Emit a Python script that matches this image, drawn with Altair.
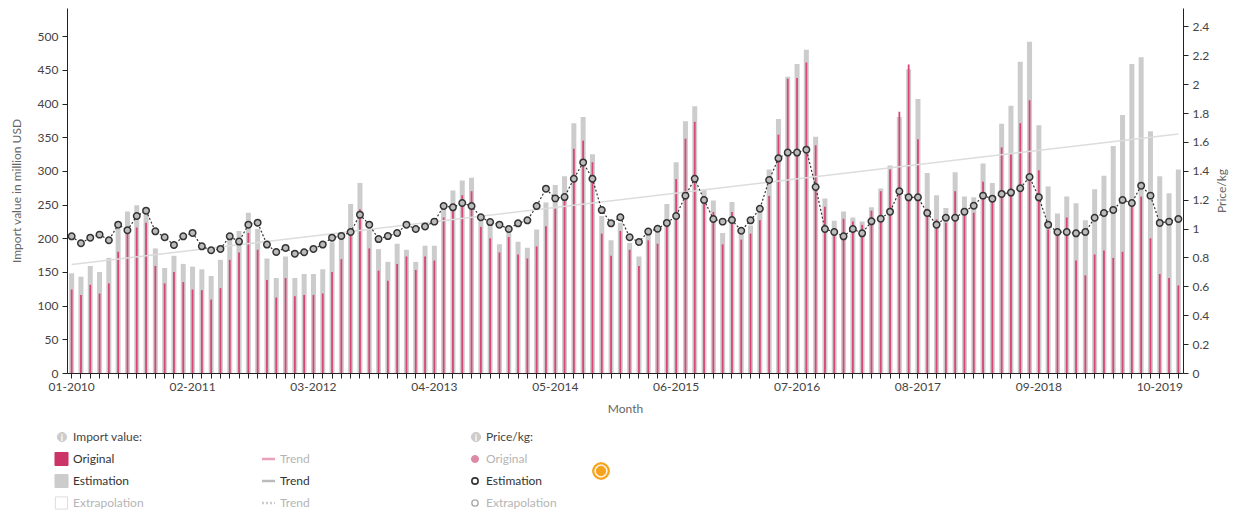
import json
import altair as alt
import pandas as pd

# ---------------- data ----------------
months = [f"{m:02d}-{y}" for y in range(2010, 2020) for m in range(1, 13)]
shown_labels = ["01-2010", "02-2011", "03-2012", "04-2013", "05-2014",
                "06-2015", "07-2016", "08-2017", "09-2018", "10-2019"]

estimation = [
    148, 143, 159, 150, 171, 214, 240, 249, 236, 185,
    156, 174, 162, 158, 154, 144, 168, 199, 211, 238,
    214, 170, 141, 173, 141, 147, 147, 154, 194, 202,
    251, 282, 213, 184, 165, 192, 183, 165, 189, 189,
    250, 271, 286, 290, 233, 222, 191, 210, 195, 186,
    213, 253, 279, 292, 371, 380, 325, 233, 197, 223,
    193, 173, 208, 214, 251, 313, 374, 396, 272, 256,
    208, 254, 206, 219, 240, 302, 377, 440, 459, 480,
    351, 259, 226, 240, 231, 225, 246, 274, 308, 380,
    451, 407, 297, 264, 245, 298, 262, 261, 311, 282,
    370, 397, 462, 492, 368, 277, 237, 262, 252, 227,
    273, 293, 337, 383, 459, 469, 359, 292, 267, 302,
]

original = [
    124, 116, 131, 118, 133, 180, 209, 216, 223, 159,
    133, 150, 135, 124, 123, 109, 126, 168, 179, 208,
    183, 138, 112, 141, 114, 116, 116, 118, 150, 169,
    209, 243, 185, 152, 137, 162, 173, 153, 173, 167,
    231, 248, 264, 270, 217, 200, 179, 202, 176, 170,
    188, 218, 244, 256, 333, 345, 313, 207, 174, 211,
    183, 159, 197, 192, 226, 288, 348, 373, 257, 239,
    191, 239, 198, 207, 227, 263, 354, 437, 438, 461,
    338, 247, 215, 229, 225, 220, 241, 270, 302, 388,
    458, 347, 244, 228, 223, 270, 243, 238, 284, 262,
    335, 325, 371, 405, 301, 213, 208, 231, 167, 145,
    176, 182, 171, 180, 248, 262, 200, 147, 141, 130,
]

price = [
    0.946, 0.898, 0.937, 0.958, 0.919, 1.027, 0.988, 1.087, 1.124, 0.981,
    0.940, 0.886, 0.946, 0.970, 0.877, 0.850, 0.859, 0.946, 0.910, 1.027,
    1.041, 0.889, 0.838, 0.866, 0.826, 0.836, 0.859, 0.889, 0.937, 0.949,
    0.976, 1.096, 1.027, 0.927, 0.948, 0.969, 1.027, 0.997, 1.015, 1.048,
    1.156, 1.147, 1.177, 1.156, 1.078, 1.045, 1.027, 0.997, 1.036, 1.057,
    1.156, 1.276, 1.209, 1.218, 1.345, 1.458, 1.345, 1.128, 1.036, 1.078,
    0.940, 0.907, 0.979, 0.999, 1.039, 1.087, 1.228, 1.345, 1.198, 1.066,
    1.048, 1.059, 0.985, 1.057, 1.137, 1.336, 1.486, 1.526, 1.526, 1.546,
    1.288, 0.997, 0.976, 0.946, 0.997, 0.967, 1.050, 1.068, 1.117, 1.258,
    1.216, 1.216, 1.108, 1.027, 1.075, 1.075, 1.117, 1.158, 1.228, 1.207,
    1.240, 1.249, 1.279, 1.357, 1.216, 1.027, 0.976, 0.976, 0.967, 0.976,
    1.075, 1.108, 1.129, 1.198, 1.177, 1.297, 1.228, 1.039, 1.048, 1.066,
]

trend_months = ["01-2010", "12-2019"]
trend_values = [161, 355]

left_ticks = [0, 50, 100, 150, 200, 250, 300, 350, 400, 450, 500]
right_ticks = [0, 0.2, 0.4, 0.6, 0.8, 1, 1.2, 1.4, 1.6, 1.8, 2, 2.2, 2.4]

df = pd.DataFrame({"month": months, "estimation": estimation,
                   "original": original, "price": price})
trend_df = pd.DataFrame({"month": trend_months, "trend": trend_values})

# ---------------- styling ----------------
FONT = "Lato"
PLOT_X0, PLOT_Y0 = 67, 8  # page position of the plot origin

xscale = alt.Scale(domain=months, paddingInner=0, paddingOuter=0)
label_expr = ("indexof(" + json.dumps(shown_labels) +
              ", datum.value) >= 0 ? datum.value : ''")
x_axis = alt.Axis(title="Month", labelExpr=label_expr, labelAngle=0,
                  labelOverlap=False, labelFont=FONT, labelFontSize=12,
                  labelColor="#444", titleFont=FONT, titleFontSize=12,
                  titleFontWeight="normal", titleColor="#666",
                  domainColor="#222", tickColor="#222", tickSize=5,
                  labelPadding=3, titlePadding=11, grid=False)
x_enc = alt.X("month:O", scale=xscale, axis=x_axis, sort=None)

yl_scale = alt.Scale(domain=[0, 542], nice=False, zero=True)
yr_scale = alt.Scale(domain=[0, 2.527], nice=False, zero=True)

LEFT_TITLE = "Import value in million USD"
RIGHT_TITLE = "Price/kg"
left_axis = alt.Axis(title=LEFT_TITLE, orient="left", values=left_ticks,
                     labelFont=FONT, labelFontSize=12, labelColor="#444",
                     titleFont=FONT, titleFontSize=12, titleFontWeight="normal",
                     titleColor="#666", domainColor="#222", tickColor="#222",
                     tickSize=5, labelPadding=4, titlePadding=14, grid=False)
right_axis = alt.Axis(title=RIGHT_TITLE, orient="right", values=right_ticks,
                      format="~g", labelFont=FONT, labelFontSize=12,
                      labelColor="#444", titleFont=FONT, titleFontSize=12,
                      titleFontWeight="normal", titleColor="#666",
                      titleAngle=270, titleBaseline="top",
                      domainColor="#222", tickColor="#222", tickSize=5,
                      labelPadding=4, titlePadding=8, grid=False)

gray_bars = alt.Chart(df).mark_bar(width=5, color="#cccccc").encode(
    x=x_enc, y=alt.Y("estimation:Q", scale=yl_scale, axis=left_axis,
                     title=LEFT_TITLE))
pink_bars = alt.Chart(df).mark_bar(width=1.8, color="#d84677").encode(
    x=x_enc, y=alt.Y("original:Q", scale=yl_scale, axis=left_axis,
                     title=LEFT_TITLE))
trend_line = alt.Chart(trend_df).mark_line(color="#dcdcdc", strokeWidth=1.5).encode(
    x=x_enc, y=alt.Y("trend:Q", scale=yl_scale, axis=left_axis,
                     title=LEFT_TITLE))

left = alt.layer(gray_bars, pink_bars, trend_line)

price_line = alt.Chart(df).mark_line(color="#333333", strokeDash=[2, 2],
                                     strokeWidth=1.2).encode(
    x=x_enc, y=alt.Y("price:Q", scale=yr_scale, axis=right_axis,
                     title=RIGHT_TITLE))
price_pts = alt.Chart(df).mark_point(shape="circle", size=42, filled=True,
                                     color="#bbbbbb", stroke="#333333",
                                     strokeWidth=1.5, opacity=1).encode(
    x=x_enc, y=alt.Y("price:Q", scale=yr_scale, axis=right_axis,
                     title=RIGHT_TITLE))

right = alt.layer(price_line, price_pts)


# ---------------- legend (decoration) ----------------
def px(v):
    return v - PLOT_X0


def py(v):
    return v - PLOT_Y0


def txt(label, x, y, color="#333333", size=12, weight="normal", align="left"):
    return alt.Chart(pd.DataFrame({"t": [label]})).mark_text(
        align=align, baseline="middle", font=FONT, fontSize=size,
        color=color, fontWeight=weight).encode(
        text="t:N", x=alt.value(px(x)), y=alt.value(py(y)))


def dot(x, y, shape, size, fill, stroke, sw=1.0, filled=True):
    return alt.Chart(pd.DataFrame({"t": [0]})).mark_point(
        shape=shape, size=size, filled=filled, fill=fill, stroke=stroke,
        strokeWidth=sw, opacity=1).encode(
        x=alt.value(px(x)), y=alt.value(py(y)))


def seg(x1, x2, y, color, width=2.0, dash=None):
    kw = dict(color=color, strokeWidth=width)
    if dash:
        kw["strokeDash"] = dash
    return alt.Chart(pd.DataFrame({"t": [0]})).mark_rule(**kw).encode(
        x=alt.value(px(x1)), x2=alt.value(px(x2)), y=alt.value(py(y)))


ACTIVE, FADED = "#333333", "#b5b5b5"
legend = [
    dot(62, 437, "circle", 85, "#cccccc", "#cccccc"),
    txt("i", 62, 437.5, "#ffffff", 9, "bold", "center"),
    txt("Import value:", 73, 437, "#444444"),
    dot(61.5, 459, "square", 170, "#cc3366", "#cc3366"),
    txt("Original", 73, 459, ACTIVE),
    dot(61.5, 481, "square", 170, "#cccccc", "#cccccc"),
    txt("Estimation", 73, 481, ACTIVE),
    dot(61.5, 503, "square", 150, "#ffffff", "#dddddd", 1.0),
    txt("Extrapolation", 73, 503, FADED),
    seg(262, 275, 459, "#eaa0b8", 2.5),
    txt("Trend", 280, 459, FADED),
    seg(262, 275, 481, "#bbbbbb", 2.5),
    txt("Trend", 280, 481, ACTIVE),
    seg(262, 275, 503, "#cccccc", 2.5, [2, 2]),
    txt("Trend", 280, 503, FADED),
    dot(476, 437, "circle", 85, "#cccccc", "#cccccc"),
    txt("i", 476, 437.5, "#ffffff", 9, "bold", "center"),
    txt("Price/kg:", 486, 437, "#444444"),
    dot(475, 459, "circle", 50, "#dc8aa6", "#dc8aa6"),
    txt("Original", 486, 459, FADED),
    dot(475, 481, "circle", 40, "#ffffff", "#333333", 1.6),
    txt("Estimation", 486, 481, ACTIVE),
    dot(475, 503, "circle", 40, "#ffffff", "#aaaaaa", 1.4),
    txt("Extrapolation", 486, 503, FADED),
    dot(601, 471, "circle", 280, "#f7a21b", "#f7a21b"),
    dot(601, 471, "circle", 150, "#ffffff", "#ffffff"),
    dot(601, 471, "circle", 90, "#f7a21b", "#f7a21b"),
]

chart = alt.layer(left, right, *legend).resolve_scale(
    y="independent"
).resolve_axis(
    y="independent"
).properties(
    width=1116, height=365,
    autosize=alt.AutoSizeParams(type="none"),
    padding={"left": 59, "top": 0, "right": 48, "bottom": 137},
    background="#ffffff",
).configure_view(stroke="transparent")

chart.save("out.html", embed_options={"renderer": "svg", "actions": False})
